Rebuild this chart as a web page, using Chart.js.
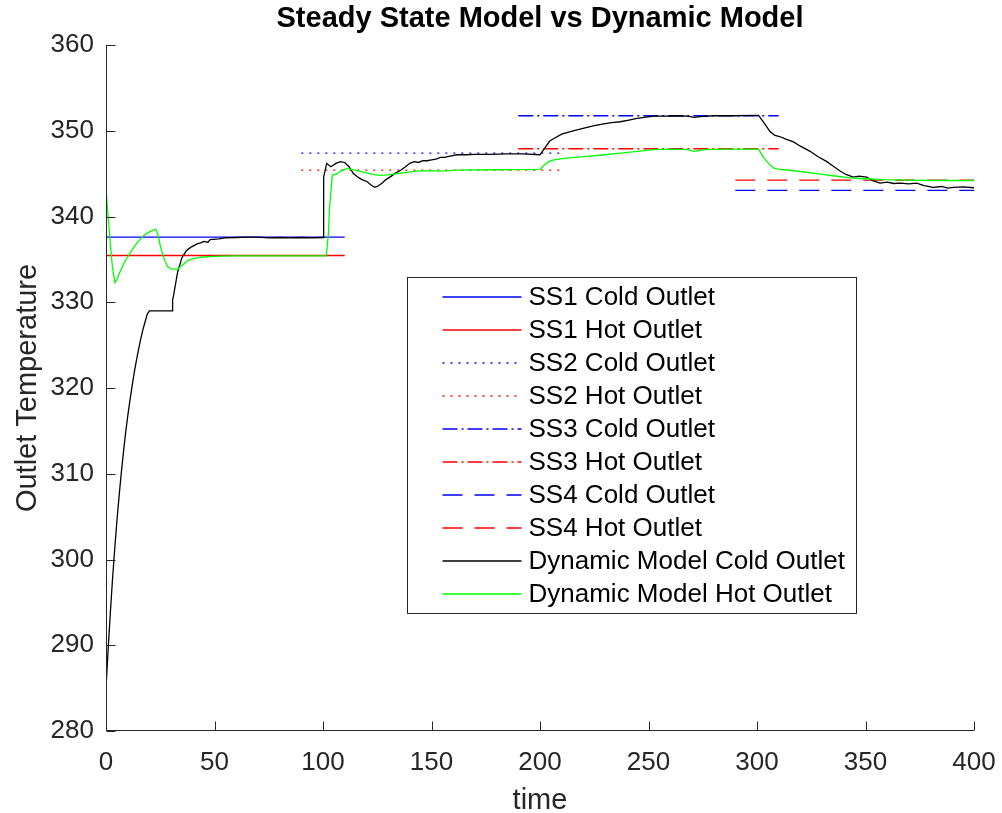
<!DOCTYPE html>
<html>
<head>
<meta charset="utf-8">
<script src="https://cdn.jsdelivr.net/npm/chart.js@4.4.1/dist/chart.umd.min.js"></script>
<style>
  html, body { margin: 0; padding: 0; background: #fff; }
  canvas { display: block; }
</style>
</head>
<body>
<canvas id="tempChart" width="1002" height="813"></canvas>
<script>
// steady state levels, [start, end] of each line and the temperature
const ssRanges = [[0, 110], [90, 210], [190, 310], [290, 400]];
const ssCold = [337.6, 347.4, 351.75, 343.05];
const ssHot = [335.45, 345.4, 347.9, 344.25];

// dynamic model, cold outlet
const tCold = [
  0, 1, 2, 3, 4, 5, 6, 7, 8, 9, 10, 11, 12, 13, 14, 15, 16, 17, 18, 19, 20,
  30.5, 30.7, 31, 33, 35, 37, 39, 42, 44, 45, 47, 48, 52, 55, 60, 65, 70, 75, 80, 85, 90, 95, 100,
  100.3, 101.7, 103.6, 106, 108, 110, 112, 114, 116.6, 118, 120.4, 122, 123.8, 125, 127.3, 129,
  131.2, 133, 135.8, 138, 140, 142, 144, 146, 148, 150, 152, 154.2, 156, 158, 161.8, 166, 170,
  177, 185, 192, 200,
  202.5, 204.5, 206.4, 210, 214, 218, 221.7, 225, 229.4, 233, 237, 241, 244.7, 248, 252.4,
  258, 263, 267.7, 271, 274, 280, 290, 300,
  300.7, 303, 306, 308, 310.7, 313, 316.8, 320, 324.5, 328, 332.2, 335, 338.3, 341, 344.4,
  347, 350.6, 353, 356.7, 360, 363, 366, 370, 373.6, 377, 381.2, 385, 388, 390.5, 395, 400
];
const coldVals = [
  285.0, 289.6, 293.8, 297.7, 301.2, 304.4, 307.3, 310.0, 312.4, 314.7, 316.7, 318.5, 320.2,
  321.8, 323.2, 324.5, 325.7, 326.8, 327.7, 328.6, 329.0,
  329.0, 330.3, 330.6, 333.5, 335.2, 336.0, 336.4, 336.8, 336.95, 337.1, 337.0, 337.3, 337.4,
  337.5, 337.55, 337.6, 337.6, 337.5, 337.55, 337.5, 337.55, 337.5, 337.55,
  344.6, 346.2, 345.8, 346.2, 346.4, 346.3, 345.8, 345.0, 344.5, 344.3, 344.05, 343.7, 343.4,
  343.5, 343.9, 344.3, 344.65, 345.0, 345.4, 345.8, 346.2, 346.4, 346.3, 346.5, 346.5, 346.6,
  346.7, 346.9, 346.9, 347.0, 347.2, 347.2, 347.25, 347.25, 347.3, 347.3, 347.2,
  348.1, 348.8, 349.1, 349.6, 349.9, 350.15, 350.4, 350.6, 350.8, 350.95, 351.05, 351.25,
  351.45, 351.55, 351.7, 351.7, 351.75, 351.7, 351.55, 351.65, 351.75, 351.75, 351.8,
  351.8, 351.0, 349.9, 349.5, 349.3, 349.05, 348.7, 348.2, 347.6, 347.0, 346.4, 345.9, 345.3,
  344.9, 344.6, 344.7, 344.6, 344.2, 343.9, 344.0, 343.85, 343.9, 343.8, 343.9, 343.6, 343.4,
  343.5, 343.3, 343.4, 343.45, 343.35
];

// dynamic model, hot outlet
const tHot = [
  0, 1, 2, 3, 4.1, 5, 6, 8, 10, 12, 14, 16.1, 18, 20, 22, 23, 24, 25, 26, 27, 28.4, 30, 33,
  35, 37.6, 40, 43.7, 50, 59, 101.5,
  102.5, 103, 104.3, 106.6, 108, 111.2, 113, 115.8, 120, 123, 126.5, 130, 134, 138.8, 143,
  149.6, 155, 161.8, 180, 200,
  202, 204, 206.4, 212, 221.7, 230, 237, 245, 252.4, 260, 268, 271, 276, 285, 300,
  300.7, 303, 306, 308, 310.7, 320, 327.6, 335, 343, 350, 358, 370, 380, 390, 400
];
const hotVals = [
  343.1, 340.0, 336.8, 334.0, 332.3, 332.6, 333.3, 334.4, 335.3, 336.1, 336.8, 337.45, 337.9,
  338.2, 338.45, 338.5, 337.8, 336.6, 335.7, 334.9, 334.15, 333.9, 333.85, 334.3, 334.85, 335.05,
  335.25, 335.35, 335.4, 335.4,
  338.0, 341.0, 344.8, 345.0, 345.3, 345.6, 345.5, 345.35, 345.1, 344.9, 344.8, 344.85, 345.0,
  345.15, 345.3, 345.35, 345.3, 345.4, 345.45, 345.5,
  346.0, 346.4, 346.6, 346.8, 347.0, 347.2, 347.4, 347.6, 347.8, 347.85, 347.8, 347.6, 347.8,
  347.85, 347.85,
  347.85, 346.9, 346.0, 345.6, 345.5, 345.25, 345.0, 344.75, 344.5, 344.4, 344.3, 344.25, 344.2,
  344.2, 344.2
];

const xTicks = [0, 50, 100, 150, 200, 250, 300, 350, 400];
const yTicks = [280, 290, 300, 310, 320, 330, 340, 350, 360];

const AXIS_COLOR = '#262626';
const FONT = '"Liberation Sans", Arial, Helvetica, sans-serif';

const dotted = [2, 6];
const dashDot = [15, 4, 2, 4];
const dashed = [20, 12];
const ssStyles = [[], dotted, dashDot, dashed];

function toPoints(xs, ys) {
  return xs.map((x, i) => ({ x: x, y: ys[i] }));
}

const datasets = [];
ssRanges.forEach((r, i) => {
  datasets.push({
    label: 'SS' + (i + 1) + ' Cold Outlet',
    data: [{ x: r[0], y: ssCold[i] }, { x: r[1], y: ssCold[i] }],
    borderColor: '#0000ff',
    borderDash: ssStyles[i],
    order: 10,
  });
  datasets.push({
    label: 'SS' + (i + 1) + ' Hot Outlet',
    data: [{ x: r[0], y: ssHot[i] }, { x: r[1], y: ssHot[i] }],
    borderColor: '#ff0000',
    borderDash: ssStyles[i],
    order: 10,
  });
});
datasets.push({
  label: 'Dynamic Model Cold Outlet',
  data: toPoints(tCold, coldVals),
  borderColor: '#000000',
  borderDash: [],
  order: 2,
});
datasets.push({
  label: 'Dynamic Model Hot Outlet',
  data: toPoints(tHot, hotVals),
  borderColor: '#00ff00',
  borderDash: [],
  order: 1,
});

// axis lines with inward ticks, like matlab
const axisLines = {
  id: 'axisLines',
  afterDatasetsDraw(chart) {
    const { ctx, chartArea: a, scales } = chart;
    const left = Math.round(a.left) + 0.5;
    const bottom = Math.round(a.bottom) - 0.5;
    ctx.save();
    ctx.strokeStyle = AXIS_COLOR;
    ctx.lineWidth = 1;
    ctx.setLineDash([]);
    ctx.beginPath();
    ctx.moveTo(left, a.top);
    ctx.lineTo(left, bottom);
    ctx.lineTo(a.right, bottom);
    yTicks.forEach(v => {
      const y = Math.round(scales.y.getPixelForValue(v)) + 0.5;
      ctx.moveTo(left, y);
      ctx.lineTo(left + 9, y);
    });
    xTicks.forEach(v => {
      const x = Math.round(scales.x.getPixelForValue(v)) + 0.5;
      ctx.moveTo(x, bottom);
      ctx.lineTo(x, bottom - 9);
    });
    ctx.stroke();
    ctx.restore();
  }
};

// boxed legend inside the axes
const boxLegend = {
  id: 'boxLegend',
  afterDraw(chart) {
    const { ctx, chartArea: a } = chart;
    const bx = Math.round(a.left + 301) + 0.5;
    const by = Math.round(a.top + 232) + 0.5;
    const bw = 449, bh = 336;
    ctx.save();
    ctx.fillStyle = '#fff';
    ctx.fillRect(bx, by, bw, bh);
    ctx.strokeStyle = AXIS_COLOR;
    ctx.lineWidth = 1;
    ctx.strokeRect(bx, by, bw, bh);
    ctx.font = '26px ' + FONT;
    ctx.textBaseline = 'middle';
    ctx.textAlign = 'left';
    chart.data.datasets.forEach((ds, i) => {
      const y = by + 19.5 + i * 33;
      ctx.strokeStyle = ds.borderColor;
      ctx.lineWidth = 1.3;
      ctx.setLineDash(ds.borderDash || []);
      ctx.beginPath();
      ctx.moveTo(bx + 35, y);
      ctx.lineTo(bx + 114, y);
      ctx.stroke();
      ctx.fillStyle = '#000';
      ctx.fillText(ds.label, bx + 121, y + 1);
    });
    ctx.restore();
  }
};

new Chart(document.getElementById('tempChart'), {
  type: 'line',
  data: { datasets: datasets },
  options: {
    responsive: false,
    animation: false,
    elements: {
      line: { borderWidth: 1.3, tension: 0 },
      point: { radius: 0 },
    },
    layout: {
      padding: { top: 0, right: 28, bottom: 0, left: 0 },
    },
    scales: {
      x: {
        type: 'linear',
        min: 0,
        max: 400,
        afterBuildTicks: scale => { scale.ticks = xTicks.map(v => ({ value: v })); },
        afterFit: scale => {
          scale.height = 82;
          scale.paddingLeft = 0;
          scale.paddingRight = 0;
        },
        grid: { display: false, drawTicks: false },
        border: { display: false },
        ticks: {
          color: AXIS_COLOR,
          padding: 16,
          maxRotation: 0,
          font: { family: FONT, size: 26 },
        },
        title: {
          display: true,
          text: 'time',
          color: AXIS_COLOR,
          font: { family: FONT, size: 29, lineHeight: 0.83 },
          padding: { top: 0, bottom: 0 },
        },
      },
      y: {
        type: 'linear',
        min: 280,
        max: 360,
        afterBuildTicks: scale => { scale.ticks = yTicks.map(v => ({ value: v })); },
        afterFit: scale => {
          scale.width = 106;
          scale.paddingTop = 0;
          scale.paddingBottom = 0;
        },
        grid: { display: false, drawTicks: false },
        border: { display: false },
        ticks: {
          color: AXIS_COLOR,
          padding: 12,
          font: { family: FONT, size: 26 },
        },
        title: {
          display: true,
          text: 'Outlet Temperature',
          color: AXIS_COLOR,
          font: { family: FONT, size: 29, lineHeight: 1 },
          padding: { top: 13, bottom: 0 },
        },
      },
    },
    plugins: {
      legend: { display: false },
      tooltip: { enabled: false },
      title: {
        display: true,
        fullSize: false,
        text: 'Steady State Model vs Dynamic Model',
        color: '#000',
        font: { family: FONT, size: 29, weight: 'bold', lineHeight: 1 },
        padding: { top: 4, bottom: 12 },
      },
    },
  },
  plugins: [axisLines, boxLegend],
});
</script>
</body>
</html>
